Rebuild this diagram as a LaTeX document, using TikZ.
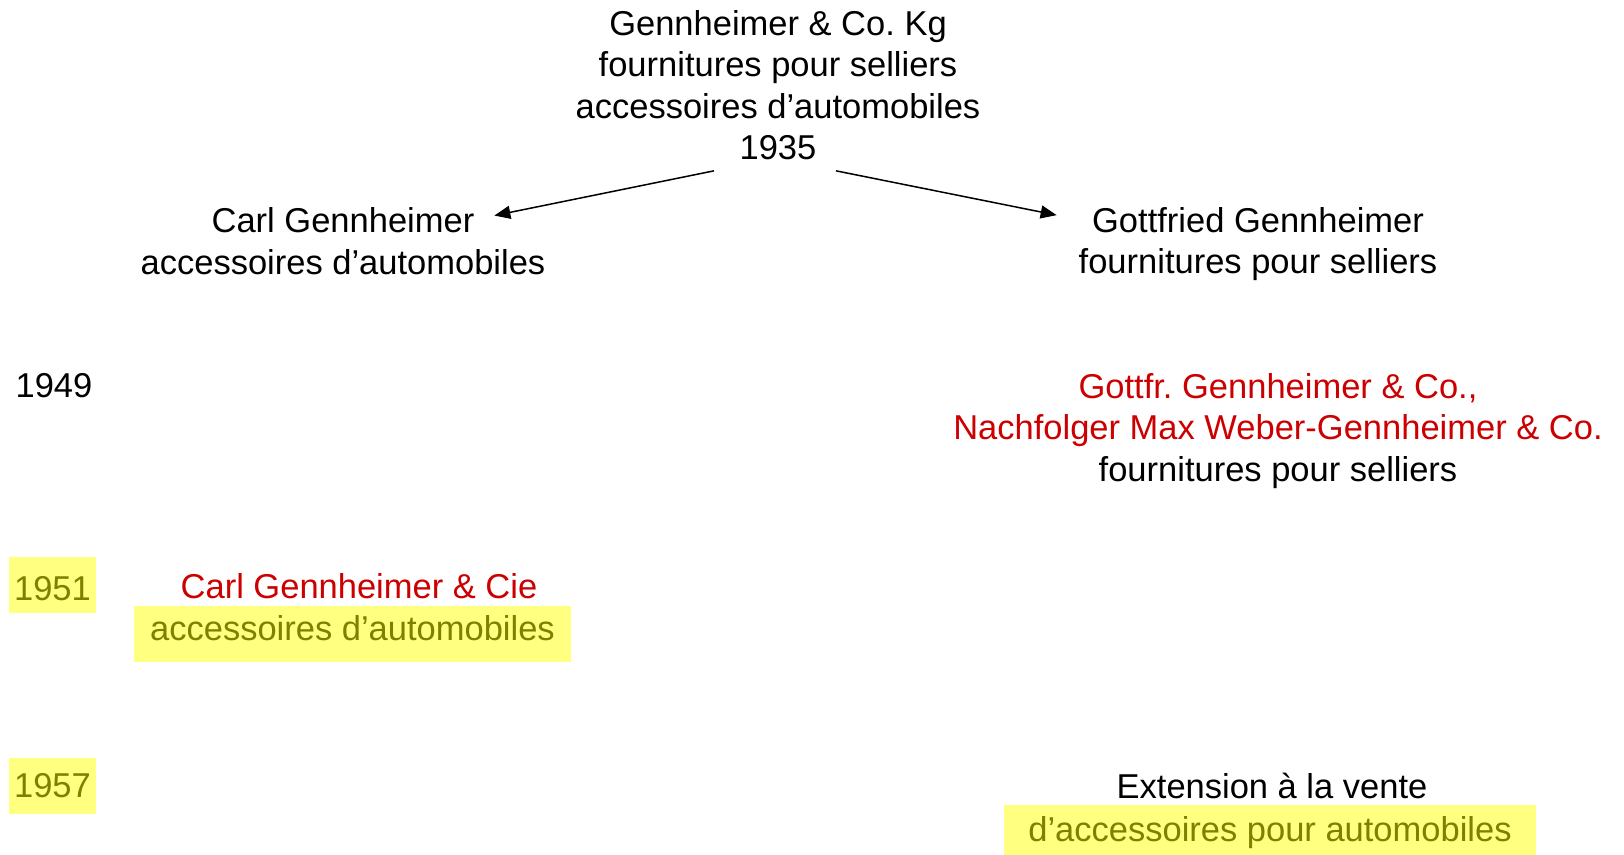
\documentclass[tikz,border=0pt]{standalone}
\usepackage{fontspec}
\setmainfont{Liberation Sans}
\usetikzlibrary{arrows.meta}
\definecolor{firmred}{RGB}{204,0,0}
\definecolor{olivetxt}{RGB}{128,128,0}
\definecolor{hlyellow}{RGB}{255,255,128}
\frenchspacing

\begin{document}
\begin{tikzpicture}[x=0.5pt,y=-0.5pt,>={Triangle[length=8pt,width=6.5pt]},
    every node/.style={font=\fontsize{17.25}{20.7}\selectfont,align=center},
    mark yellow/.style={fill=hlyellow,text=olivetxt,inner sep=0pt,minimum height=28pt}]
        \useasboundingbox (0,0) rectangle (1624,855);
        \node (top) at (778,85) {Gennheimer \& Co. Kg\\fournitures pour selliers\\accessoires d’automobiles\\1935};
        \node (carl) at (343,241) {Carl Gennheimer\\accessoires d’automobiles};
        \node (gott) at (1258,244) {Gottfried Gennheimer\\fournitures pour selliers};
        \node (y49) at (54,386) {1949};
        \node (weber) at (1278,431) {\textcolor{firmred}{Gottfr. Gennheimer \& Co.,}\\\textcolor{firmred}{Nachfolger Max Weber-Gennheimer \& Co.}\\fournitures pour selliers};
        \node[mark yellow,minimum width=43.5pt,text height=15.3pt] (y51) at (52.5,585) {1951};
        \node[text=firmred] (carlcie) at (359,586) {Carl Gennheimer \& Cie};
        \node[mark yellow,minimum width=218.5pt,text depth=6pt] (carlacc) at (352.5,634) {accessoires d’automobiles};
        \node[mark yellow,minimum width=43.5pt] (y57) at (52.5,785.5) {1957};
        \node (ext) at (1272,786) {Extension à la vente};
        \node[mark yellow,minimum width=266pt] (extacc) at (1270,833) {d’accessoires pour automobiles};
        \coordinate (topL) at ([xshift=-32pt,yshift=-2pt]top.south);
        \coordinate (topR) at ([xshift=29pt,yshift=-2pt]top.south);
        \coordinate (carlIn) at ([xshift=-29pt,yshift=-7.5pt]carl.north east);
        \coordinate (gottIn) at ([xshift=-7.5pt,yshift=-7.5pt]gott.north west);
        \draw[->,line width=0.75pt] (topL)--(carlIn);
        \draw[->,line width=0.75pt] (topR)--(gottIn);
    \end{tikzpicture}
\end{document}
